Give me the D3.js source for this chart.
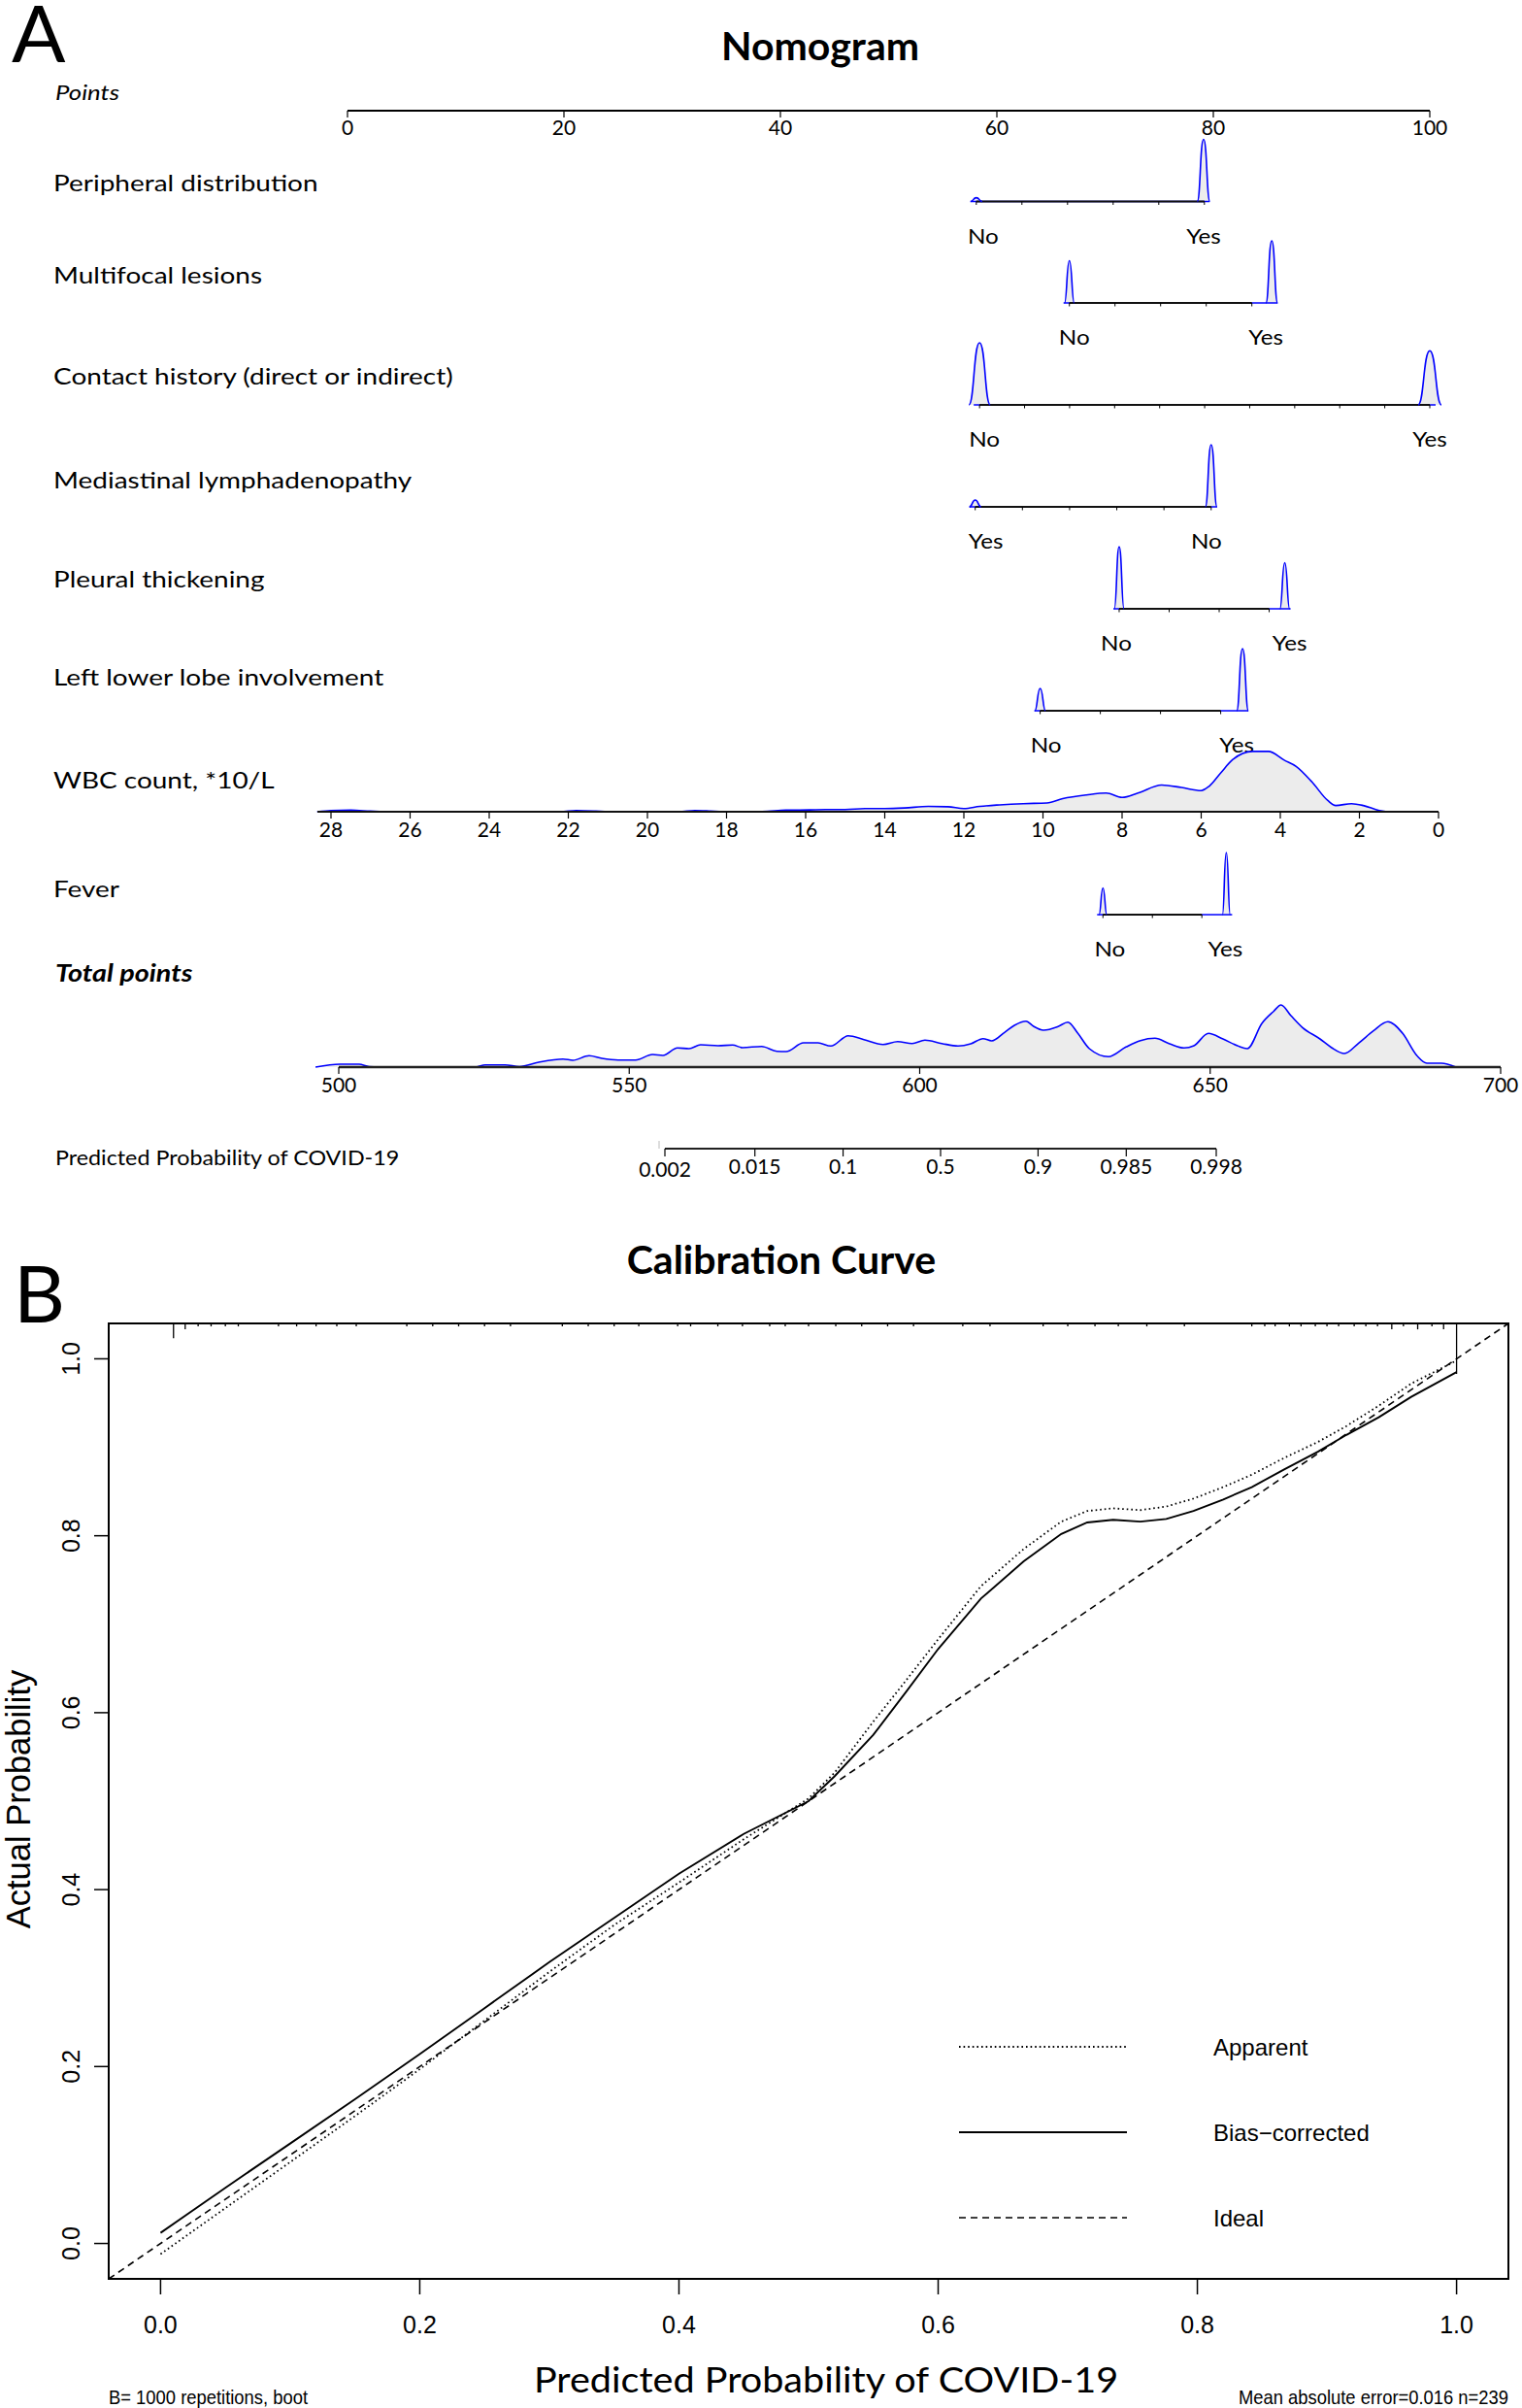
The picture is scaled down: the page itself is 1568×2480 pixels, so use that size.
<!DOCTYPE html>
<html><head><meta charset="utf-8">
<script src="https://cdn.jsdelivr.net/npm/d3@7"></script>
<style>body{margin:0;background:#fff} svg{display:block}</style>
</head><body>
<svg id="chart" width="1568" height="2480"></svg>
<script>
// ================= DATA =================
// Nomogram
const pointsTicks = [0, 20, 40, 60, 80, 100];
const catLabels = ["Peripheral distribution", "Multifocal lesions", "Contact history (direct or indirect)",
  "Mediastinal lymphadenopathy", "Pleural thickening", "Left lower lobe involvement", "Fever"];
const catLevels = [["No","Yes"],["No","Yes"],["No","Yes"],["Yes","No"],["No","Yes"],["No","Yes"],["No","Yes"]];
const catLevelPoints = [[58.1,79.1],[66.7,85.4],[58.4,100],[58.0,79.8],[71.3,86.6],[64.0,82.7],[69.8,81.2]];
const catLevelDensity = [[6,100],[68,100],[100,87],[11,100],[100,74],[36,100],[43,100]];
const catTickStep = [4.215, 4.215, 4.16, 4.36, 4.62, 5.56, 4.57];
const catTickCount = [5, 4, 10, 5, 3, 3, 2];

const wbcLabel = "WBC count, *10/L";
const wbcTicks = [28,26,24,22,20,18,16,14,12,10,8,6,4,2,0];
const wbcDensity = [[28.35,0],[28.0,2],[27.5,2.5],[27.0,1],[26.5,0],[22.2,0],[21.8,2],[21.3,1],[21.0,0],
  [19.2,0],[18.8,2],[18.4,1],[18.1,0],[17.1,0.5],[16.5,2.5],[15.9,3],[15.5,3.5],[15.0,3.5],[14.5,5],
  [14.0,5],[13.5,6],[12.9,8.5],[12.4,8],[12.0,5],[11.6,8.5],[11.1,11],[10.5,13],[9.9,14],[9.5,21],
  [8.9,27],[8.4,30],[8.0,23],[7.6,30],[7.0,43],[6.5,39],[6.0,34],[5.8,41],[5.5,63],[5.2,84],[4.7,97],
  [4.3,97],[3.9,83],[3.6,73],[3.2,48],[2.8,18],[2.6,10],[2.2,13],[1.9,10],[1.5,2],[1.3,0]];

const totalTicks = [500, 550, 600, 650, 700];
const totalDensity = [[496.0,0],[500.2,4.7],[503.5,4.7],[505.2,0.8],[508.5,0],[523.6,0],[525.2,3.6],[528.6,3.6],
  [531.1,0.8],[534.4,7.8],[538.6,13],[540.3,11],[543.1,18.3],[545.3,14],[548.1,11.4],[551.1,11.4],[554.0,20.3],
  [555.8,18.8],[558.3,30.8],[560.3,29.7],[562.3,35.9],[565.3,34.4],[567.8,35.5],[569.5,31.3],[572.8,33.3],
  [575.4,25.5],[577.0,25],[580.0,39],[582.5,39],[584.7,33.9],[587.7,50.5],[590.4,44.2],[593.7,36.4],
  [596.2,41.1],[598.7,38],[600.9,43.3],[603.8,38],[606.6,33.9],[608.8,37.5],[610.9,45.8],[612.4,42.2],
  [614.6,55.8],[616.3,67.2],[618.3,73.9],[619.6,65.6],[621.3,59.4],[623.8,65.2],[625.5,72.3],[627.2,54.7],
  [629.2,29.7],[632.5,16.7],[635.5,32.3],[638.0,42.7],[640.5,46.4],[643.0,37.5],[645.5,30.8],[647.2,34.4],
  [649.7,54.2],[652.2,45.3],[654.7,34.4],[656.4,29.7],[658.9,70.3],[660.9,89.5],[662.2,100],[663.9,82.8],
  [665.9,63.6],[668.9,45.3],[670.9,31.3],[673.1,21.9],[675.6,39],[678.1,58.3],[680.6,73],[683.1,54.7],
  [685.6,18.3],[687.3,6.3],[689.8,6.3],[692.3,0]];

const probTicks = [0.002, 0.015, 0.1, 0.5, 0.9, 0.985, 0.998];

// Calibration curve
const calTicks = [0, 0.2, 0.4, 0.6, 0.8, 1.0];
const calPredicted = [0,0.05,0.1,0.15,0.2,0.25,0.3,0.35,0.4,0.45,0.5,0.52,0.55,0.575,0.6,0.633,0.666,0.695,
  0.715,0.735,0.756,0.776,0.797,0.82,0.842,0.867,0.893,0.915,0.94,0.965,1.0];
const calBiasCorrected = [0.012,0.063,0.113,0.163,0.214,0.266,0.318,0.368,0.418,0.463,0.500,0.528,0.575,0.623,
  0.672,0.729,0.771,0.802,0.815,0.818,0.816,0.819,0.828,0.841,0.855,0.875,0.895,0.914,0.934,0.957,0.985];
const calApparent = [-0.012,0.040,0.092,0.144,0.197,0.252,0.307,0.360,0.408,0.457,0.503,0.532,0.590,0.636,
  0.683,0.743,0.785,0.816,0.828,0.831,0.829,0.833,0.842,0.855,0.869,0.888,0.906,0.924,0.947,0.972,0.998];
const rugProb = [0.010,0.019,0.029,0.039,0.050,0.060,0.091,0.105,0.120,0.136,0.151,0.190,0.210,0.230,0.250,
  0.270,0.310,0.330,0.350,0.369,0.399,0.409,0.430,0.449,0.470,0.482,0.500,0.521,0.541,0.561,0.581,0.619,
  0.640,0.681,0.700,0.721,0.739,0.761,0.790,0.842,0.852,0.860,0.871,0.880,0.891,0.900,0.909,0.921,0.930,
  0.939,0.950,0.959,0.970,0.981,0.990,1.000];
const rugCount = [5,2,1,1,1,1,1,1,1,1,1,1,1,1,1,1,1,1,1,1,1,1,1,1,1,1,1,1,1,1,1,1,1,1,1,1,1,1,1,1,1,1,1,1,1,
  1,1,1,1,1,2,1,2,1,2,17];
const legendNames = ["Apparent", "Bias\u2212corrected", "Ideal"];

// ================= DRAW =================
const svg = d3.select("#chart");
svg.append("rect").attr("width",1568).attr("height",2480).attr("fill","#fff");
const NF = "Lato, 'Open Sans', sans-serif";
const AF = "'Liberation Sans', Arial, sans-serif";
const BLUE = "#0000ff", FILL = "#ececec";

function stext(g, x, y, txt, size, sx, opts={}){
  const t = g.append("text").attr("transform",`translate(${x},${y}) scale(${sx},1)`)
    .attr("font-family",opts.family||NF).attr("font-size",size).text(txt);
  if (opts.anchor) t.attr("text-anchor",opts.anchor);
  if (opts.italic) t.attr("font-style","italic");
  if (opts.bold) t.attr("font-weight","bold");
  return t;
}

// ---------- Panel A: Nomogram ----------
const A = svg.append("g");
A.append("text").attr("x",12).attr("y",64).attr("font-family",NF).attr("font-size",82).text("A");
A.append("text").attr("x",845).attr("y",62).attr("text-anchor","middle").attr("font-family",NF)
  .attr("font-weight","bold").attr("font-size",41).text("Nomogram");

const pts = d3.scaleLinear().domain([0,100]).range([358,1473]);
const hScale = d3.scaleLinear().domain([0,100]).range([0,64]);

stext(A, 57, 103, "Points", 22, 1.17, {italic:true});
const ptsAxisY = 114;
A.append("line").attr("x1",pts(0)).attr("x2",pts(100)).attr("y1",ptsAxisY).attr("y2",ptsAxisY)
  .attr("stroke","#000").attr("stroke-width",2);
A.selectAll(".ptk").data(pointsTicks).enter().append("line")
  .attr("x1",d=>pts(d)).attr("x2",d=>pts(d)).attr("y1",ptsAxisY).attr("y2",ptsAxisY+7)
  .attr("stroke","#000").attr("stroke-width",1.2);
A.selectAll(".ptl").data(pointsTicks).enter().append("text")
  .attr("x",d=>pts(d)).attr("y",139).attr("text-anchor","middle").attr("font-family",NF)
  .attr("font-size",21).text(d=>d);

const catAxisY = [207.5, 312, 417, 522, 627, 732, 942];
const catLabelY = [197, 292, 396, 503, 605, 706, 924];
const bumpHW = [[6,6.5],[5,6],[11,12],[6,6],[5,5],[5.5,6],[4,4]];
const lvlLabelDx = [[7,0],[5,-6],[5,0],[11,-5],[-3,5],[6,-6],[7,-1]];

function bumpPath(x, y0, hw, h){
  return `M${x-hw},${y0} C${x-0.5*hw},${y0} ${x-0.55*hw},${y0-h} ${x},${y0-h} `+
         `C${x+0.55*hw},${y0-h} ${x+0.5*hw},${y0} ${x+hw},${y0}`;
}

catLabels.forEach((lab,i)=>{
  const y0 = catAxisY[i];
  const g = A.append("g");
  stext(g, 55, catLabelY[i], lab, 24, 1.165);
  const lv = catLevelPoints[i];
  const xs = lv.map(p=>pts(p));
  lv.forEach((p,j)=>{
    g.append("path").attr("d",bumpPath(pts(p),y0,bumpHW[i][j],hScale(catLevelDensity[i][j])))
      .attr("fill",FILL).attr("stroke","none");
  });
  const lo = d3.min(xs), hi = d3.max(xs);
  g.append("line").attr("x1",lo-6).attr("x2",hi+6).attr("y1",y0).attr("y2",y0)
    .attr("stroke",BLUE).attr("stroke-width",1.5);
  const start = d3.min(lv);
  const tks = d3.range(catTickCount[i]+1).map(k=>start+k*catTickStep[i]);
  g.append("line").attr("x1",pts(start)).attr("x2",pts(tks[tks.length-1])).attr("y1",y0).attr("y2",y0)
    .attr("stroke","#111").attr("stroke-width",2.2);
  g.selectAll(".tk").data(tks).enter().append("line")
    .attr("x1",d=>pts(d)).attr("x2",d=>pts(d)).attr("y1",y0).attr("y2",y0+3.5)
    .attr("stroke","#000").attr("stroke-width",1);
  lv.forEach((p,j)=>{
    g.append("path").attr("d",bumpPath(pts(p),y0,bumpHW[i][j],hScale(catLevelDensity[i][j])))
      .attr("fill","none").attr("stroke",BLUE).attr("stroke-width",1.6);
  });
  catLevels[i].forEach((name,j)=>{
    stext(g, pts(lv[j])+lvlLabelDx[i][j], y0+43, name, 22, 1.1, {anchor:"middle"});
  });
});

// WBC row
{
  const y0 = 836;
  const wx = d3.scaleLinear().domain([28,0]).range([341,1482]);
  stext(A, 55, 812, wbcLabel, 24, 1.165);
  const area = d3.area().x(d=>wx(d[0])).y0(y0).y1(d=>y0-hScale(d[1])).curve(d3.curveMonotoneX);
  const line = d3.line().x(d=>wx(d[0])).y(d=>y0-hScale(d[1])).curve(d3.curveMonotoneX);
  A.append("path").attr("d",area(wbcDensity)).attr("fill",FILL);
  A.append("path").attr("d",line(wbcDensity)).attr("fill","none").attr("stroke",BLUE).attr("stroke-width",1.6);
  A.append("line").attr("x1",327).attr("x2",wx(0)).attr("y1",y0).attr("y2",y0)
    .attr("stroke","#111").attr("stroke-width",2.2);
  A.selectAll(".wtk").data(wbcTicks).enter().append("line")
    .attr("x1",d=>wx(d)).attr("x2",d=>wx(d)).attr("y1",y0).attr("y2",y0+7)
    .attr("stroke","#000").attr("stroke-width",1.2);
  A.selectAll(".wtl").data(wbcTicks).enter().append("text")
    .attr("x",d=>wx(d)).attr("y",862).attr("text-anchor","middle").attr("font-family",NF)
    .attr("font-size",21).text(d=>d);
}

// Total points
{
  const y0 = 1099;
  const tx = d3.scaleLinear().domain([500,700]).range([349,1546]);
  stext(A, 57, 1011, "Total points", 24, 1.2, {italic:true, bold:true});
  const area = d3.area().x(d=>tx(d[0])).y0(y0).y1(d=>y0-hScale(d[1])).curve(d3.curveMonotoneX);
  const line = d3.line().x(d=>tx(d[0])).y(d=>y0-hScale(d[1])).curve(d3.curveMonotoneX);
  A.append("path").attr("d",area(totalDensity)).attr("fill",FILL);
  A.append("path").attr("d",line(totalDensity)).attr("fill","none").attr("stroke",BLUE).attr("stroke-width",1.6);
  A.append("line").attr("x1",tx(500)).attr("x2",tx(700)).attr("y1",y0).attr("y2",y0)
    .attr("stroke","#222").attr("stroke-width",2.5);
  A.selectAll(".ttk").data(totalTicks).enter().append("line")
    .attr("x1",d=>tx(d)).attr("x2",d=>tx(d)).attr("y1",y0).attr("y2",y0+7)
    .attr("stroke","#000").attr("stroke-width",1.2);
  A.selectAll(".ttl").data(totalTicks).enter().append("text")
    .attr("x",d=>tx(d)).attr("y",1125).attr("text-anchor","middle").attr("font-family",NF)
    .attr("font-size",21).text(d=>d);
}

// Predicted probability axis
{
  const y0 = 1183;
  const logit = p=>Math.log(p/(1-p));
  const lx = d3.scaleLinear().domain([logit(0.002),logit(0.998)]).range([685,1253]);
  const px = p=>lx(logit(p));
  stext(A, 57, 1200, "Predicted Probability of COVID-19", 21, 1.11);
  A.append("line").attr("x1",679).attr("x2",679).attr("y1",y0-8).attr("y2",y0)
    .attr("stroke","#bbb").attr("stroke-width",1);
  A.append("line").attr("x1",px(0.002)).attr("x2",px(0.998)).attr("y1",y0).attr("y2",y0)
    .attr("stroke","#222").attr("stroke-width",2.2);
  A.selectAll(".prk").data(probTicks).enter().append("line")
    .attr("x1",d=>px(d)).attr("x2",d=>px(d)).attr("y1",y0).attr("y2",y0+8)
    .attr("stroke","#000").attr("stroke-width",1.2);
  A.selectAll(".prl").data(probTicks).enter().append("text")
    .attr("x",d=>px(d)).attr("y",(d,i)=>i===0?1212:1209).attr("text-anchor","middle").attr("font-family",NF)
    .attr("font-size",21).text(d=>d);
}

// ---------- Panel B: Calibration ----------
const B = svg.append("g");
B.append("text").attr("x",14).attr("y",1362).attr("font-family",NF).attr("font-size",82).text("B");
B.append("text").attr("x",805).attr("y",1312).attr("text-anchor","middle").attr("font-family",NF)
  .attr("font-weight","bold").attr("font-size",41).text("Calibration Curve");

const cx = d3.scaleLinear().domain([-0.04,1.04]).range([112,1554]);
const cy = d3.scaleLinear().domain([-0.04,1.04]).range([2347,1363]);

B.append("clipPath").attr("id","clipB").append("rect")
  .attr("x",cx(-0.04)).attr("y",cy(1.04)).attr("width",cx(1.04)-cx(-0.04)).attr("height",cy(-0.04)-cy(1.04));

const rugH = d3.scaleLinear().domain([0,17]).range([0,52]);
B.selectAll(".rug").data(rugProb).enter().append("line")
  .attr("x1",d=>cx(d)).attr("x2",d=>cx(d)).attr("y1",cy(1.04))
  .attr("y2",(d,i)=>cy(1.04)+rugH(rugCount[i])).attr("stroke","#000").attr("stroke-width",1.3);

const plotG = B.append("g").attr("clip-path","url(#clipB)");
plotG.append("line").attr("x1",cx(-0.04)).attr("y1",cy(-0.04)).attr("x2",cx(1.04)).attr("y2",cy(1.04))
  .attr("stroke","#000").attr("stroke-width",1.6).attr("stroke-dasharray","7,5");
const calLine = d3.line().x(d=>cx(d[0])).y(d=>cy(d[1]));
plotG.append("path").attr("d",calLine(calPredicted.map((p,i)=>[p,calApparent[i]])))
  .attr("fill","none").attr("stroke","#000").attr("stroke-width",1.8).attr("stroke-dasharray","1.6,3");
plotG.append("path").attr("d",calLine(calPredicted.map((p,i)=>[p,calBiasCorrected[i]])))
  .attr("fill","none").attr("stroke","#000").attr("stroke-width",1.9);

B.append("rect").attr("x",cx(-0.04)).attr("y",cy(1.04)).attr("width",cx(1.04)-cx(-0.04))
  .attr("height",cy(-0.04)-cy(1.04)).attr("fill","none").attr("stroke","#000").attr("stroke-width",2);

B.selectAll(".xtk").data(calTicks).enter().append("line")
  .attr("x1",d=>cx(d)).attr("x2",d=>cx(d)).attr("y1",cy(-0.04)).attr("y2",cy(-0.04)+16)
  .attr("stroke","#000").attr("stroke-width",1.5);
B.selectAll(".xtl").data(calTicks).enter().append("text")
  .attr("x",d=>cx(d)).attr("y",2403).attr("text-anchor","middle").attr("font-family",AF)
  .attr("font-size",25).text(d=>d.toFixed(1));
B.selectAll(".ytk").data(calTicks).enter().append("line")
  .attr("x1",cx(-0.04)).attr("x2",cx(-0.04)-15).attr("y1",d=>cy(d)).attr("y2",d=>cy(d))
  .attr("stroke","#000").attr("stroke-width",1.5);
B.selectAll(".ytl").data(calTicks).enter().append("text")
  .attr("transform",d=>`translate(82,${cy(d)}) rotate(-90)`).attr("text-anchor","middle")
  .attr("font-family",AF).attr("font-size",25).text(d=>d.toFixed(1));

B.append("text").attr("transform",`translate(31,1853) rotate(-90)`).attr("text-anchor","middle")
  .attr("font-family",AF).attr("font-size",34.5).text("Actual Probability");
stext(B, 851, 2464, "Predicted Probability of COVID-19", 36.5, 1.085, {anchor:"middle"});

B.append("text").attr("x",112).attr("y",2476).attr("font-family",AF).attr("font-size",21)
  .attr("textLength",205).attr("lengthAdjust","spacingAndGlyphs").text("B= 1000 repetitions, boot");
B.append("text").attr("x",1554).attr("y",2476).attr("text-anchor","end").attr("font-family",AF).attr("font-size",21)
  .attr("textLength",278).attr("lengthAdjust","spacingAndGlyphs").text("Mean absolute error=0.016 n=239");

const legY = [2108, 2196, 2284];
const legDash = ["1.6,3", null, "7,5"];
const legW = [1.8, 1.9, 1.6];
legendNames.forEach((n,i)=>{
  const l = B.append("line").attr("x1",988).attr("x2",1161).attr("y1",legY[i]).attr("y2",legY[i])
    .attr("stroke","#000").attr("stroke-width",legW[i]);
  if (legDash[i]) l.attr("stroke-dasharray",legDash[i]);
  B.append("text").attr("x",1250).attr("y",legY[i]+9).attr("font-family",AF).attr("font-size",24).text(n);
});
</script>
</body></html>
